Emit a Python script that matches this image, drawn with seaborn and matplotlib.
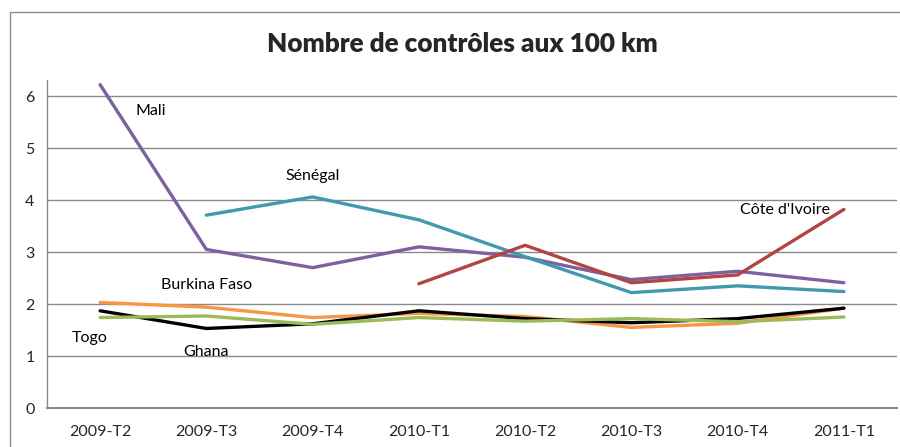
import numpy as np
import pandas as pd
import matplotlib
matplotlib.use("Agg")
import matplotlib.pyplot as plt
import seaborn as sns
from matplotlib.patches import Rectangle

periods = ["2009-T2", "2009-T3", "2009-T4", "2010-T1",
           "2010-T2", "2010-T3", "2010-T4", "2011-T1"]

mali = [6.22, 3.05, 2.70, 3.10, 2.90, 2.47, 2.63, 2.41]
senegal = [np.nan, 3.71, 4.06, 3.62, 2.91, 2.22, 2.35, 2.24]
cote_ivoire = [np.nan, np.nan, np.nan, 2.39, 3.13, 2.41, 2.56, 3.82]
burkina = [2.03, 1.94, 1.74, 1.82, 1.76, 1.55, 1.63, 1.92]
ghana = [1.87, 1.53, 1.62, 1.87, 1.72, 1.64, 1.72, 1.92]
togo = [1.74, 1.77, 1.61, 1.74, 1.67, 1.72, 1.66, 1.75]

countries = ["Mali", "Sénégal", "Côte d'Ivoire", "Burkina Faso", "Ghana", "Togo"]
colors = ["#7D60A0", "#4198AF", "#B04542", "#F79646", "#000000", "#9BBB59"]

series = [mali, senegal, cote_ivoire, burkina, ghana, togo]
rows = []
for name, vals in zip(countries, series):
    for p, v in zip(periods, vals):
        rows.append([p, name, v])
df = pd.DataFrame(rows, columns=["Periode", "Pays", "Valeur"])
df["Periode"] = pd.Categorical(df["Periode"], categories=periods, ordered=True)
df = df.dropna()

sns.set_style("white")
plt.rcParams["font.family"] = ["Lato", "DejaVu Sans"]

fig = plt.figure(figsize=(9, 4.47), dpi=100)
ax = fig.add_axes([47 / 900, 1 - 408 / 447, 850 / 900, 328 / 447])

# gridlines first so lines draw over them
for yv in range(0, 7):
    ax.axhline(yv, color="#8a8a8a", lw=1.0, zorder=0)

sns.lineplot(data=df, x="Periode", y="Valeur", hue="Pays", hue_order=countries,
             palette=colors, linewidth=2.4, legend=False, ax=ax, sort=False)

ax.set_xlim(-0.5, 7.5)
ax.set_ylim(0, 6.31)
ax.set_yticks(range(0, 7))
ax.set_xticks(range(len(periods)))
ax.set_xticklabels(periods)
ax.set_xticks(np.arange(-0.5, 8, 1), minor=True)
ax.tick_params(axis="x", which="major", length=0, pad=12, labelsize=11.5)
ax.tick_params(axis="x", which="minor", length=5, width=1, color="#8a8a8a", direction="out")
ax.tick_params(axis="y", length=5, width=1, color="#8a8a8a", direction="out",
               labelsize=11.5, pad=4)
ax.set_xlabel("")
ax.set_ylabel("")

for s in ["top", "right"]:
    ax.spines[s].set_visible(False)
ax.spines["left"].set_color("#8a8a8a")
ax.spines["bottom"].set_color("#8a8a8a")
ax.spines["left"].set_linewidth(1.0)
ax.spines["bottom"].set_linewidth(1.5)

# series labels
lab = dict(fontsize=11.5, color="black")
ax.text(0.33, 5.71, "Mali", ha="left", va="center", **lab)
ax.text(2.0, 4.46, "Sénégal", ha="center", va="center", **lab)
ax.text(1.0, 2.37, "Burkina Faso", ha="center", va="center", **lab)
ax.text(-0.1, 1.34, "Togo", ha="center", va="center", **lab)
ax.text(1.0, 1.07, "Ghana", ha="center", va="center", **lab)
ax.text(6.45, 3.81, "Côte d'Ivoire", ha="center", va="center", **lab)

fig.text(462 / 900, 1 - 44 / 447, "Nombre de contrôles aux 100 km", ha="center",
         va="center", fontsize=18.8, fontweight="heavy")

# chart area border (cropped at right and bottom)
fig.patches.append(Rectangle((10 / 900, -0.1), 1.0, 1 - 12 / 447 + 0.1,
                             transform=fig.transFigure, fill=False,
                             edgecolor="#8c8c8c", lw=1.0))

fig.savefig("out.png", dpi=100)
